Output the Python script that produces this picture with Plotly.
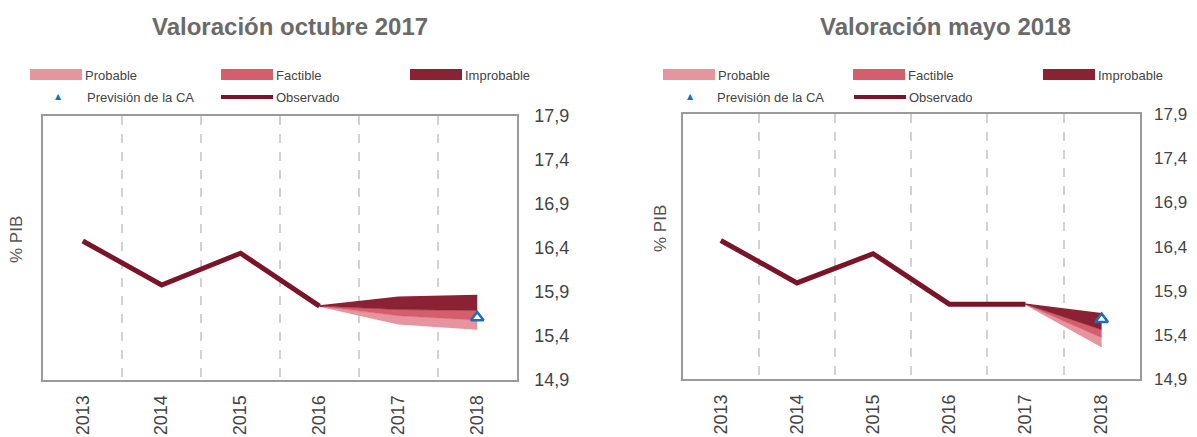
import plotly.graph_objects as go

# ---------------- data ----------------
years = ["2013", "2014", "2015", "2016", "2017", "2018"]

# Valoración octubre 2017
obs_oct = [16.48, 15.98, 16.34, 15.74, None, None]
fan_x_oct = ["2016", "2017", "2018"]
prob_low_oct = [15.74, 15.54, 15.48]
fact_low_oct = [15.74, 15.63, 15.58]
impr_low_oct = [15.74, 15.70, 15.69]
impr_high_oct = [15.74, 15.84, 15.86]
prev_ca_oct = [15.61]

# Valoración mayo 2018
obs_may = [16.47, 15.99, 16.32, 15.75, 15.75, None]
fan_x_may = ["2017", "2018"]
prob_low_may = [15.75, 15.27]
fact_low_may = [15.75, 15.37]
impr_low_may = [15.75, 15.46]
impr_high_may = [15.75, 15.64]
prev_ca_may = [15.58]

y_ticks = [14.9, 15.4, 15.9, 16.4, 16.9, 17.4, 17.9]
y_ticktext = [f"{v:.1f}".replace(".", ",") for v in y_ticks]

titles = ["Valoración octubre 2017", "Valoración mayo 2018"]
legend_labels = ["Probable", "Factible", "Improbable", "Previsión de la CA", "Observado"]

# ---------------- styles ----------------
W, H = 1197, 437
OFF = 8  # page offset of the figure inside the browser window
C_PROB = "#E6949E"
C_FACT = "#D45E6E"
C_IMPR = "#8A2233"
C_OBS = "#7A1529"
C_CA = "#1F6DB8"
FONT = "Liberation Sans"


def px(x):
    return (x - OFF) / W


def py(y):
    return 1 - (y - OFF) / H


fig = go.Figure()


def add_panel(xa, ya, obs, fx, pl, fl, il, ih, ca):
    common = dict(xaxis=xa, yaxis=ya, mode="lines", showlegend=False, hoverinfo="skip")
    fig.add_trace(go.Scatter(x=fx, y=pl, line=dict(color=C_PROB, width=1.5), **common))
    fig.add_trace(go.Scatter(x=fx, y=fl, fill="tonexty", fillcolor=C_PROB,
                             line=dict(color=C_FACT, width=0.5), **common))
    fig.add_trace(go.Scatter(x=fx, y=il, fill="tonexty", fillcolor=C_FACT,
                             line=dict(color=C_IMPR, width=0.5), **common))
    fig.add_trace(go.Scatter(x=fx, y=ih, fill="tonexty", fillcolor=C_IMPR,
                             line=dict(color=C_IMPR, width=1.5), **common))
    fig.add_trace(go.Scatter(x=years, y=obs, line=dict(color=C_OBS, width=5),
                             **common))
    fig.add_trace(go.Scatter(x=["2018"], y=ca, xaxis=xa, yaxis=ya, mode="markers",
                             showlegend=False, hoverinfo="skip",
                             marker=dict(symbol="triangle-up", size=11, color="white",
                                         line=dict(color=C_CA, width=2.5))))


add_panel("x", "y", obs_oct, fan_x_oct, prob_low_oct, fact_low_oct, impr_low_oct,
          impr_high_oct, prev_ca_oct)
add_panel("x2", "y2", obs_may, fan_x_may, prob_low_may, fact_low_may, impr_low_may,
          impr_high_may, prev_ca_may)


def xaxis_cfg(domain, anchor):
    return dict(domain=domain, anchor=anchor, type="category", categoryorder="array",
                categoryarray=years, range=[-0.5, 5.5], tickson="boundaries",
                showgrid=True, gridcolor="#d2d2d2", gridwidth=2, griddash="dash",
                showline=True, mirror=True, linecolor="#9a9a9a", linewidth=2,
                ticks="", tickangle=-90, ticklabelstandoff=6, automargin=False,
                tickfont=dict(family=FONT, size=18, color="#444444"),
                zeroline=False, fixedrange=True)


def yaxis_cfg(domain, anchor, size, standoff):
    return dict(domain=domain, anchor=anchor, range=[14.9, 17.9], side="right",
                tickvals=y_ticks, ticktext=y_ticktext, showgrid=False,
                showline=True, mirror=True, linecolor="#9a9a9a", linewidth=2,
                ticks="", ticklabelstandoff=standoff, automargin=False,
                tickfont=dict(family=FONT, size=size, color="#444444"),
                zeroline=False, fixedrange=True)


fig.update_layout(
    width=W, height=H,
    margin=dict(l=0, r=0, t=0, b=0, pad=0, autoexpand=False),
    paper_bgcolor="white", plot_bgcolor="white",
    xaxis=xaxis_cfg([px(43.3), px(516.7)], "y"),
    yaxis=yaxis_cfg([py(380), py(116)], "x", 18, 12),
    xaxis2=xaxis_cfg([px(682.7), px(1139.7)], "y2"),
    yaxis2=yaxis_cfg([py(379.3), py(114)], "x2", 17, 9),
    showlegend=False,
)

# ---------------- titles, axis titles, hand-made legends ----------------
ann = []
shapes = []

panel_info = [
    dict(title_x=290, ytitle=(17, 240), sw=[(30, 82), (221, 273), (410, 462)],
         tri_x=58, prev_x=85, obs_line=(221, 273)),
    dict(title_x=945, ytitle=(660, 229), sw=[(663, 715), (853, 905), (1043, 1095)],
         tri_x=690, prev_x=715, obs_line=(854, 906)),
]
sw_colors = [C_PROB, C_FACT, C_IMPR]

for i, p in enumerate(panel_info):
    ann.append(dict(x=px(p["title_x"]), y=py(27), xref="paper", yref="paper",
                    text=titles[i], showarrow=False, xanchor="center", yanchor="middle",
                    font=dict(family=FONT, size=24, color="#6a6a6a", weight=600)))
    ann.append(dict(x=px(p["ytitle"][0]), y=py(p["ytitle"][1]), xref="paper", yref="paper",
                    text="% PIB", textangle=-90, showarrow=False, xanchor="center",
                    yanchor="middle", font=dict(family=FONT, size=17, color="#555555")))
    for (x0, x1), col, lab in zip(p["sw"], sw_colors, legend_labels[:3]):
        shapes.append(dict(type="rect", xref="paper", yref="paper", x0=px(x0), x1=px(x1),
                           y0=py(80), y1=py(69), fillcolor=col, line=dict(width=0),
                           layer="above"))
        ann.append(dict(x=px(x1 + 1), y=py(75), xref="paper", yref="paper", text=lab,
                        showarrow=False, xanchor="left", yanchor="middle",
                        font=dict(family=FONT, size=13, color="#444444")))
    ann.append(dict(x=px(p["tri_x"]), y=py(96), xref="paper", yref="paper", text="▲",
                    showarrow=False, xanchor="center", yanchor="middle",
                    font=dict(family="DejaVu Sans", size=8, color=C_CA)))
    ann.append(dict(x=px(p["prev_x"]), y=py(97), xref="paper", yref="paper",
                    text=legend_labels[3], showarrow=False, xanchor="left",
                    yanchor="middle", font=dict(family=FONT, size=13, color="#444444")))
    x0, x1 = p["obs_line"]
    shapes.append(dict(type="line", xref="paper", yref="paper", x0=px(x0), x1=px(x1),
                       y0=py(97), y1=py(97), line=dict(color=C_OBS, width=4)))
    ann.append(dict(x=px(x1 + 1), y=py(97), xref="paper", yref="paper",
                    text=legend_labels[4], showarrow=False, xanchor="left",
                    yanchor="middle", font=dict(family=FONT, size=13, color="#444444")))

fig.update_layout(annotations=ann, shapes=shapes)

fig.write_html("out.html")
